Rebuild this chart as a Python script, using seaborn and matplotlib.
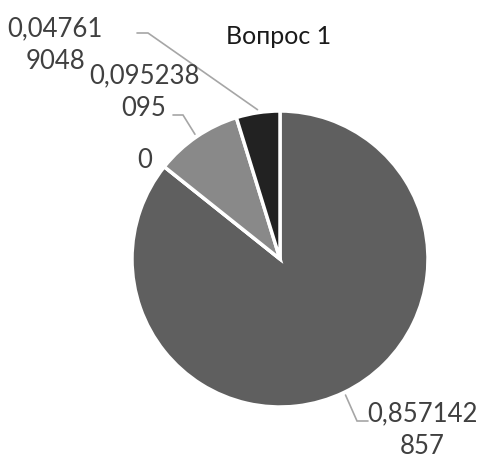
import numpy as np
import matplotlib
matplotlib.use("Agg")
import matplotlib.pyplot as plt
import seaborn as sns

# data
values = [0.857142857, 0.0, 0.095238095, 0.047619048]
labels = ["0,857142\n857", "0", "0,095238\n095", "0,04761\n9048"]
colors = ["#5f5f5f", "#5f5f5f", "#898989", "#222222"]
title = "Вопрос 1"

sns.set_style("white")
plt.rcParams["font.family"] = ["Lato", "DejaVu Sans"]

W, H = 479, 460
fig = plt.figure(figsize=(W / 100, H / 100), dpi=100)
ax = fig.add_axes([0, 0, 1, 1])


def px(x, y):
    # pixel coords (top-left origin) -> data coords
    return (x, H - y)


cx, cy = px(280, 260)
R = 148
wedges, _ = ax.pie(values, colors=colors, startangle=90, counterclock=False,
                   center=(cx, cy), radius=R,
                   wedgeprops=dict(edgecolor="white", linewidth=2.5))
ax.set_xlim(0, W)
ax.set_ylim(0, H)
ax.set_aspect("equal")
ax.axis("off")

# label layout: text centre, leader elbow, leader end (pixels)
label_pos = [(422, 430), (145, 160), (144, 92), (55, 45)]
leaders = [
    [(357, 422), (368, 422)],
    None,
    [(183, 116), (173, 116)],
    [(148, 34), (137, 34)],
]

for w, lab, pos, ld in zip(wedges, labels, label_pos, leaders):
    ax.text(*px(*pos), lab, ha="center", va="center", multialignment="center",
            fontsize=18.5, color="#404040", linespacing=1.4)
    if ld is None:
        continue
    mid = np.deg2rad((w.theta1 + w.theta2) / 2)
    sx = cx + (R + 3) * np.cos(mid)
    sy = cy + (R + 3) * np.sin(mid)
    xs = [sx] + [px(*p)[0] for p in ld]
    ys = [sy] + [px(*p)[1] for p in ld]
    ax.plot(xs, ys, color="#a6a6a6", lw=1.2, solid_joinstyle="miter")

ax.text(*px(279, 37), title, ha="center", va="center", fontsize=18,
        color="#1a1a1a")

fig.savefig("out.png", dpi=100)
